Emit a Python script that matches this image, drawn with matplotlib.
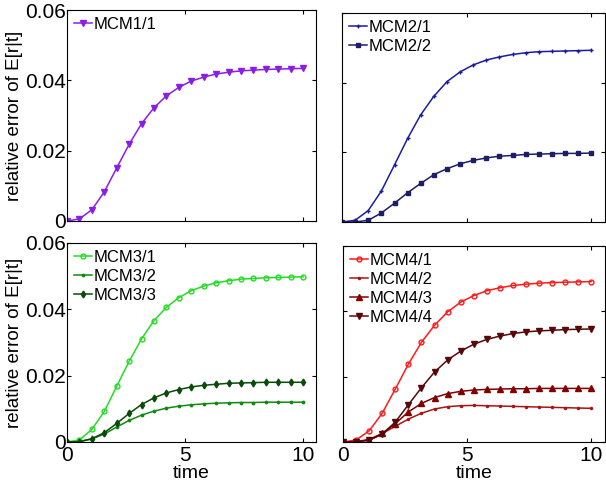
import matplotlib
matplotlib.use("Agg")
import matplotlib.pyplot as plt
import numpy as np

plt.rcParams['font.family'] = ['Liberation Sans', 'DejaVu Sans']

t = np.linspace(0, 10, 20)

mcm1_1 = [0, 0.0006, 0.0032, 0.0083, 0.0151, 0.0218, 0.0277, 0.0322, 0.0356, 0.0380,
          0.0398, 0.0409, 0.0418, 0.0423, 0.0427, 0.0429, 0.0431, 0.0432, 0.0433, 0.0434]

mcm2_1 = [0, 0.0005, 0.0033, 0.0089, 0.0164, 0.0240, 0.0308, 0.0361, 0.0403, 0.0431,
          0.0451, 0.0465, 0.0474, 0.0481, 0.0486, 0.0489, 0.0490, 0.0491, 0.0492, 0.0493]
mcm2_2 = [0, 0, 0.0005, 0.0026, 0.0054, 0.0084, 0.0111, 0.0136, 0.0153, 0.0167,
          0.0177, 0.0184, 0.0189, 0.0191, 0.0194, 0.0195, 0.0196, 0.0197, 0.0197, 0.0198]

mcm3_1 = [0, 0.0006, 0.0038, 0.0092, 0.0168, 0.0243, 0.0311, 0.0366, 0.0406, 0.0435,
          0.0456, 0.0470, 0.0480, 0.0486, 0.0491, 0.0493, 0.0495, 0.0496, 0.0497, 0.0498]
mcm3_2 = [0, 0.0001, 0.0009, 0.0024, 0.0045, 0.0065, 0.0081, 0.0093, 0.0102, 0.0108,
          0.0112, 0.0115, 0.0117, 0.0118, 0.0119, 0.0119, 0.0120, 0.0120, 0.0120, 0.0120]
mcm3_3 = [0, 0.0001, 0.0010, 0.0028, 0.0056, 0.0086, 0.0113, 0.0133, 0.0148, 0.0158,
          0.0166, 0.0171, 0.0174, 0.0177, 0.0178, 0.0179, 0.0180, 0.0180, 0.0180, 0.0180]

mcm4_1 = [0, 0.0006, 0.0034, 0.0088, 0.0162, 0.0238, 0.0305, 0.0357, 0.0398, 0.0428,
          0.0448, 0.0463, 0.0472, 0.0479, 0.0483, 0.0486, 0.0488, 0.0489, 0.0490, 0.0491]
mcm4_2 = [0, 0.0001, 0.0008, 0.0026, 0.0048, 0.0070, 0.0088, 0.0101, 0.0108, 0.0111,
          0.0112, 0.0111, 0.0110, 0.0109, 0.0108, 0.0107, 0.0106, 0.0105, 0.0104, 0.0103]
mcm4_3 = [0, 0.0001, 0.0006, 0.0026, 0.0056, 0.0092, 0.0118, 0.0136, 0.0148, 0.0155,
          0.0159, 0.0161, 0.0162, 0.0163, 0.0163, 0.0164, 0.0164, 0.0164, 0.0164, 0.0164]
mcm4_4 = [0, 0.0001, 0.0005, 0.0024, 0.0061, 0.0114, 0.0166, 0.0214, 0.0251, 0.0278,
          0.0299, 0.0314, 0.0324, 0.0332, 0.0337, 0.0340, 0.0342, 0.0344, 0.0345, 0.0346]

panels = [
    # (position, series, show y labels, show x labels)
    ([0.1106, 0.5434, 0.4109, 0.4359],
     [(mcm1_1, 'MCM1/1', '#8a1ee6', 'v', 4)], True, False),
    ([0.5644, 0.5413, 0.4340, 0.4318],
     [(mcm2_1, 'MCM2/1', '#1c1c9e', '+', 3),
      (mcm2_2, 'MCM2/2', '#1e1e66', 's', 2.5)], False, False),
    ([0.1106, 0.0868, 0.4109, 0.4112],
     [(mcm3_1, 'MCM3/1', '#22dd22', 'o', 3.5),
      (mcm3_2, 'MCM3/2', '#128a12', '.', 3.5),
      (mcm3_3, 'MCM3/3', '#0a4a0a', 'd', 3.5)], True, True),
    ([0.5660, 0.0868, 0.4324, 0.4050],
     [(mcm4_1, 'MCM4/1', '#ff1a1a', 'o', 3.5),
      (mcm4_2, 'MCM4/2', '#a81414', '.', 3),
      (mcm4_3, 'MCM4/3', '#820000', '^', 4),
      (mcm4_4, 'MCM4/4', '#580808', 'v', 4)], False, True),
]

fig = plt.figure(figsize=(6.06, 4.84), dpi=100)

for pos, series, ylab, xlab in panels:
    ax = fig.add_axes(pos)
    for vals, name, col, mk, ms in series:
        mfc = col
        if mk == 'o':
            mfc = 'none'
        ax.plot(t, vals, color=col, marker=mk, markersize=ms, lw=1.1,
                markeredgewidth=1.0, markerfacecolor=mfc, label=name)
    ax.set_xlim(0, 10.55)
    ax.set_ylim(0, 0.06)
    ax.set_xticks([0, 5, 10])
    ax.set_yticks([0, 0.02, 0.04, 0.06])
    ax.tick_params(direction='in', top=True, right=True, length=3,
                   labelsize=15, pad=1)
    ax.tick_params(axis='x', pad=3)
    if ylab:
        ax.set_yticklabels(['0', '0.02', '0.04', '0.06'])
        ax.set_ylabel('relative error of E[r|t]', fontsize=13.5, labelpad=1)
    else:
        ax.set_yticklabels([])
    if xlab:
        ax.set_xlabel('time', fontsize=14, labelpad=0)
    else:
        ax.set_xticklabels([])
    ax.legend(loc='upper left', frameon=False, fontsize=12, handlelength=1.1,
              handletextpad=0.1, labelspacing=0.25, borderaxespad=0.2,
              borderpad=0.2)

fig.savefig('out.png', dpi=100)
